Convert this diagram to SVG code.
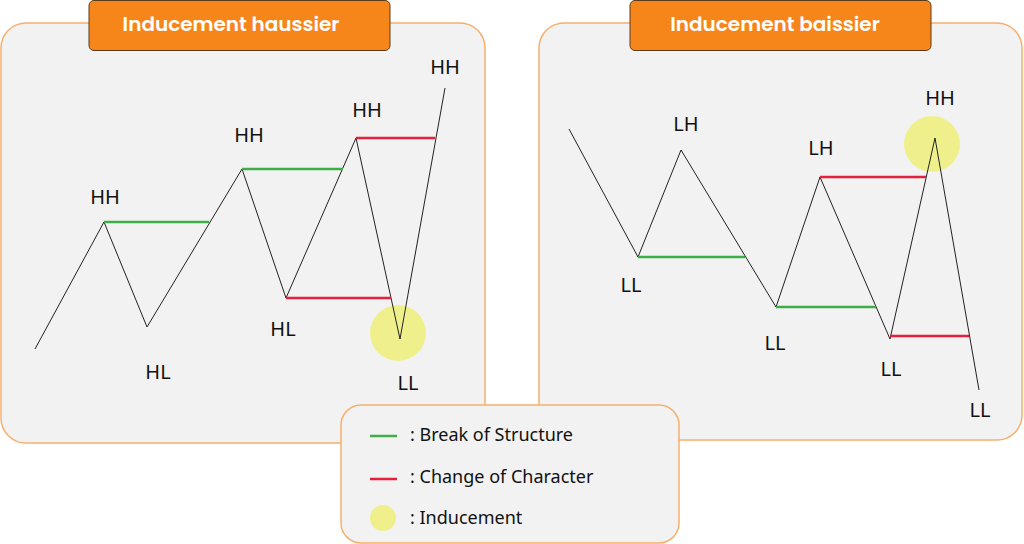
<svg xmlns="http://www.w3.org/2000/svg" width="1024" height="544" viewBox="0 0 1024 544">
<style>
.panel{fill:#f2f2f2;stroke:#f6b06e;stroke-width:1.5}
.title{fill:#f7861a;stroke:#5a3a1a;stroke-width:1}
.tt{font-family:Poppins,"Open Sans","Noto Sans",sans-serif;font-weight:600;font-size:20px;fill:#fff;text-anchor:middle}
.lb{font-family:"Noto Sans","Open Sans",sans-serif;font-size:20px;fill:#111;text-anchor:middle}
.lg{font-family:"Noto Sans","Open Sans",sans-serif;font-size:18px;fill:#111}
.px{fill:none;stroke:#222;stroke-width:1}
.g{stroke:#3fae49;stroke-width:2.5}
.r{stroke:#e4203c;stroke-width:2.5}
.ind{fill:#eef07a;opacity:.85}
</style>
<rect width="1024" height="544" fill="#fff"/>
<g id="left-panel">
<rect class="panel" x="1" y="23" width="484" height="420" rx="25"/>
<rect class="title" x="89" y="0.5" width="301" height="50" rx="5"/>
<text class="tt" x="231" y="31">Inducement haussier</text>
</g>
<g id="right-panel">
<rect class="panel" x="539" y="23" width="483" height="417" rx="25"/>
<rect class="title" x="630" y="0.5" width="301" height="50" rx="5"/>
<text class="tt" x="775" y="31">Inducement baissier</text>
</g>
<g id="indicators">
<circle class="ind" cx="398" cy="333" r="28"/>
<circle class="ind" cx="932" cy="144" r="28"/>
</g>
<g id="connectors">
<polyline class="px" points="35,349 104,222 147,327 242,169 286,298 356,138 400,339 445,88"/>
<line class="g" x1="104" y1="222" x2="209" y2="222"/>
<line class="g" x1="242" y1="169" x2="343" y2="169"/>
<line class="r" x1="356" y1="138" x2="435" y2="138"/>
<line class="r" x1="286" y1="298" x2="391" y2="298"/>
<polyline class="px" points="569,129 638,257 681,150 776,307 820,177 890,339 935,138 979,390"/>
<line class="g" x1="638" y1="257" x2="745" y2="257"/>
<line class="g" x1="776" y1="307" x2="876" y2="307"/>
<line class="r" x1="820" y1="177" x2="926" y2="177"/>
<line class="r" x1="890" y1="336" x2="969" y2="336"/>
</g>
<g id="labels">
<text class="lb" x="105" y="204">HH</text>
<text class="lb" x="158" y="379">HL</text>
<text class="lb" x="249" y="142">HH</text>
<text class="lb" x="283" y="336">HL</text>
<text class="lb" x="367" y="117">HH</text>
<text class="lb" x="408" y="390">LL</text>
<text class="lb" x="445" y="74">HH</text>
<text class="lb" x="686" y="131">LH</text>
<text class="lb" x="631" y="292">LL</text>
<text class="lb" x="775" y="350">LL</text>
<text class="lb" x="821" y="155">LH</text>
<text class="lb" x="940" y="105">HH</text>
<text class="lb" x="891" y="376">LL</text>
<text class="lb" x="980" y="417">LL</text>
</g>
<g id="legend">
<rect class="panel" x="341" y="405" width="338" height="138" rx="20"/>
<line class="g" x1="370" y1="436" x2="397" y2="436"/>
<text class="lg" x="410" y="441">: Break of Structure</text>
<line class="r" x1="370" y1="479" x2="397" y2="479"/>
<text class="lg" x="410" y="483">: Change of Character</text>
<circle class="ind" cx="383" cy="518" r="13"/>
<text class="lg" x="410" y="524">: Inducement</text>
</g>
</svg>
